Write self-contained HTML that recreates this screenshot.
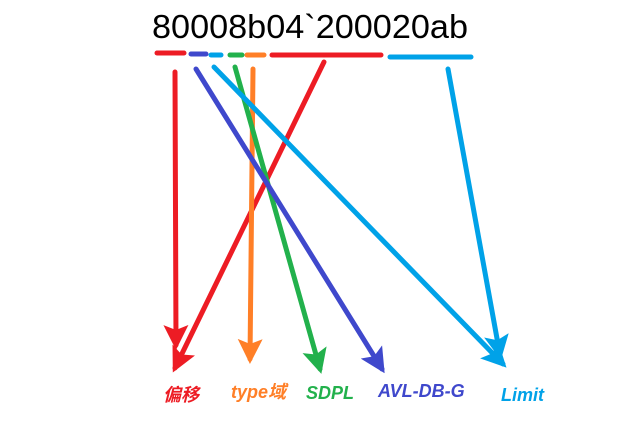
<!DOCTYPE html>
<html><head><meta charset="utf-8"><style>
html,body{margin:0;padding:0;background:#fff;width:628px;height:431px;overflow:hidden}
svg{display:block}
.lbl{font-family:"Liberation Sans","Noto Sans CJK SC",sans-serif;font-weight:bold;font-style:italic;font-size:18px}
</style></head><body>
<svg width="628" height="431" viewBox="0 0 628 431">
<defs>
<marker id="mr" markerWidth="5" markerHeight="5" refX="4" refY="2.5" orient="auto" markerUnits="strokeWidth"><path d="M0,0 L5,2.5 L0,5 L1,2.5z" fill="#ed1c24"/></marker>
<marker id="mo" markerWidth="5" markerHeight="5" refX="4" refY="2.5" orient="auto" markerUnits="strokeWidth"><path d="M0,0 L5,2.5 L0,5 L1,2.5z" fill="#ff7f27"/></marker>
<marker id="mg" markerWidth="5" markerHeight="5" refX="4" refY="2.5" orient="auto" markerUnits="strokeWidth"><path d="M0,0 L5,2.5 L0,5 L1,2.5z" fill="#22b14c"/></marker>
<marker id="mb" markerWidth="5" markerHeight="5" refX="4" refY="2.5" orient="auto" markerUnits="strokeWidth"><path d="M0,0 L5,2.5 L0,5 L1,2.5z" fill="#3f48cc"/></marker>
<marker id="mc" markerWidth="5" markerHeight="5" refX="4" refY="2.5" orient="auto" markerUnits="strokeWidth"><path d="M0,0 L5,2.5 L0,5 L1,2.5z" fill="#00a2e8"/></marker>
</defs>
<text x="152" y="38" font-family="Liberation Sans, sans-serif" font-size="33" fill="#000" textLength="316" lengthAdjust="spacingAndGlyphs">80008b04`200020ab</text>
<g stroke-linecap="round" stroke-width="5">
<line x1="157" y1="53" x2="184" y2="53" stroke="#ed1c24"/>
<line x1="191" y1="54" x2="206" y2="54" stroke="#3f48cc"/>
<line x1="211" y1="55" x2="221" y2="55" stroke="#00a2e8"/>
<line x1="230" y1="55" x2="242" y2="55" stroke="#22b14c"/>
<line x1="247" y1="55" x2="264" y2="55" stroke="#ff7f27"/>
<line x1="272" y1="55" x2="381" y2="55" stroke="#ed1c24"/>
<line x1="390" y1="57" x2="471" y2="57" stroke="#00a2e8"/>
</g>
<g stroke-width="5" fill="none" stroke-linecap="round">
<line x1="175" y1="72" x2="176" y2="345" stroke="#ed1c24" marker-end="url(#mr)"/>
<line x1="324" y1="62" x2="175" y2="368" stroke="#ed1c24" marker-end="url(#mr)"/>
<line x1="253" y1="69" x2="250" y2="359" stroke="#ff7f27" marker-end="url(#mo)"/>
<line x1="235" y1="67" x2="320" y2="369" stroke="#22b14c" marker-end="url(#mg)"/>
<line x1="196" y1="69" x2="382" y2="369" stroke="#3f48cc" marker-end="url(#mb)"/>
<line x1="214" y1="67" x2="503" y2="364" stroke="#00a2e8" marker-end="url(#mc)"/>
<line x1="448" y1="69" x2="500" y2="355" stroke="#00a2e8" marker-end="url(#mc)"/>
</g>
<text class="lbl" x="163" y="401" fill="#ed1c24">偏移</text>
<text class="lbl" x="231" y="398" fill="#ff7f27">type域</text>
<text class="lbl" x="306" y="399" fill="#22b14c">SDPL</text>
<text class="lbl" x="378" y="397" fill="#3f48cc">AVL-DB-G</text>
<text class="lbl" x="501" y="401" fill="#00a2e8">Limit</text>
</svg>
</body></html>
